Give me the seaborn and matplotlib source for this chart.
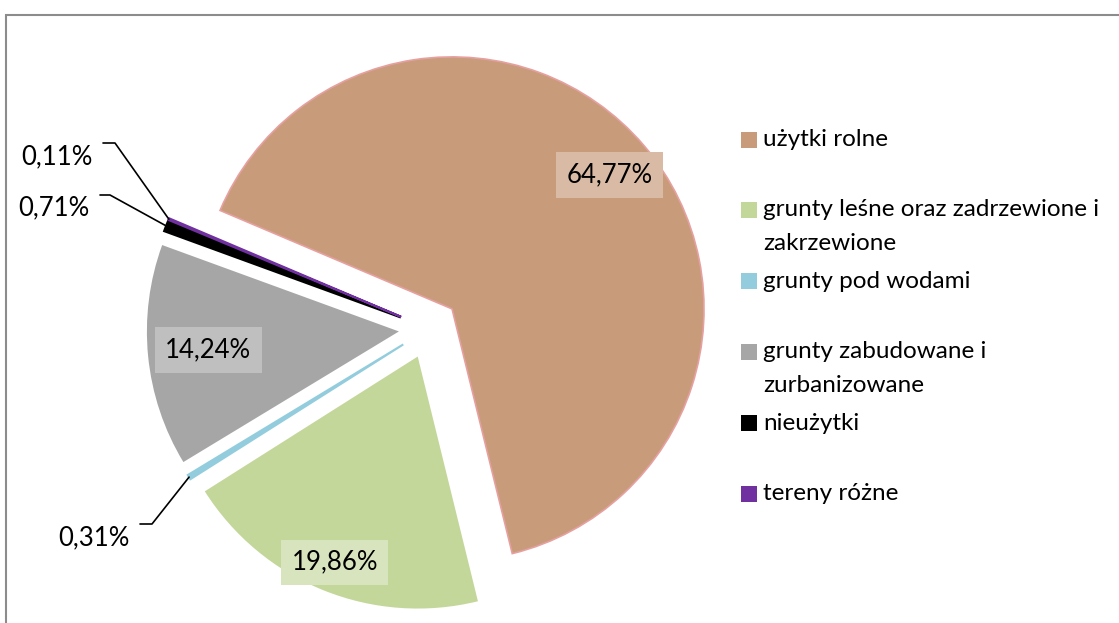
import matplotlib
matplotlib.use('Agg')
import matplotlib.pyplot as plt
from matplotlib.patches import Rectangle
import seaborn as sns
import numpy as np

sns.set_theme(style='white')
plt.rcParams['font.family'] = ['Lato', 'DejaVu Sans']

# data
categories = ['użytki rolne', 'grunty leśne oraz zadrzewione i zakrzewione',
              'grunty pod wodami', 'grunty zabudowane i zurbanizowane',
              'nieużytki', 'tereny różne']
legend_lines = [['użytki rolne'], ['grunty leśne oraz zadrzewione i', 'zakrzewione'],
                ['grunty pod wodami'], ['grunty zabudowane i', 'zurbanizowane'],
                ['nieużytki'], ['tereny różne']]
shares = [64.77, 19.86, 0.31, 14.24, 0.71, 0.11]
colors = ['#C89B7B', '#C4D79B', '#93CDDD', '#A6A6A6', '#000000', '#7030A0']
box_colors = ['#D9BBA5', '#D7E4BD', None, '#BFBFBF', None, None]

W, H = 1119, 623
cx, cy, R = 429, 328.5, 252   # pie centre / radius in pixels

fig = plt.figure(figsize=(W / 100, H / 100), dpi=100)
ax = fig.add_axes([0, 0, 1, 1])

wedges, _ = ax.pie(shares, colors=colors, startangle=157, counterclock=False,
                   explode=[0.12] * len(shares), radius=1,
                   wedgeprops=dict(linewidth=0))
wedges[0].set_edgecolor('#E6A0A0')
wedges[0].set_linewidth(1.2)
# thin slices get an outline in their own colour, like Excel draws them
for i in (2, 4, 5):
    wedges[i].set_edgecolor(colors[i])
    wedges[i].set_linewidth(1.5)

# pie() resets the limits, so put them back afterwards
ax.set_aspect('auto')
ax.set_xlim(-cx / R, (W - cx) / R)
ax.set_ylim(-(H - cy) / R, cy / R)
ax.axis('off')

def fmt(v):
    return f'{v:.2f}'.replace('.', ',') + '%'

# labels inside the big slices
inside = {0: 0.82, 1: 0.88, 3: 0.76}
for i, f in inside.items():
    w = wedges[i]
    a = np.deg2rad((w.theta1 + w.theta2) / 2)
    x = w.center[0] + f * w.r * np.cos(a)
    y = w.center[1] + f * w.r * np.sin(a)
    ax.text(x, y, fmt(shares[i]), ha='center', va='center', fontsize=18.5, color='black',
            bbox=dict(boxstyle='square,pad=0.4', fc=box_colors[i], ec='none'))

# small slices with leader lines (text pos, elbow pos in pixels)
outside = {2: ((94, 538), (140, 524), (152, 524)),
           4: ((54, 208), (100, 195), (110, 195)),
           5: ((57, 157), (103, 143), (115, 143))}

def px(p):
    return ((p[0] - cx) / R, (cy - p[1]) / R)

for i, (tpos, p0, p1) in outside.items():
    w = wedges[i]
    a = np.deg2rad((w.theta1 + w.theta2) / 2)
    ex = w.center[0] + w.r * np.cos(a)
    ey = w.center[1] + w.r * np.sin(a)
    a0, a1 = px(p0), px(p1)
    ax.plot([a0[0], a1[0], ex], [a0[1], a1[1], ey], color='black', lw=1.2)
    tx, ty = px(tpos)
    ax.text(tx, ty, fmt(shares[i]), ha='center', va='center', fontsize=18.5, color='black')

# legend drawn Excel-style
entry_y = [139.7, 210, 281, 352, 423.3, 494]
for lines, col, yy in zip(legend_lines, colors, entry_y):
    fig.patches.append(Rectangle((741 / W, 1 - (yy + 8) / H), 16 / W, 16 / H,
                                 transform=fig.transFigure, fc=col, ec='none'))
    for k, line in enumerate(lines):
        fig.text(763 / W, 1 - (yy + k * 33) / H, line, ha='left', va='center',
                 fontsize=17.5, color='black')

# chart frame
fig.patches.append(Rectangle((5.5 / W, -0.1), 1.2, 1 - 14.5 / H + 0.1,
                             transform=fig.transFigure, fill=False,
                             ec='#8C8C8C', lw=1.5))

fig.savefig('out.png', dpi=100, facecolor='white')
